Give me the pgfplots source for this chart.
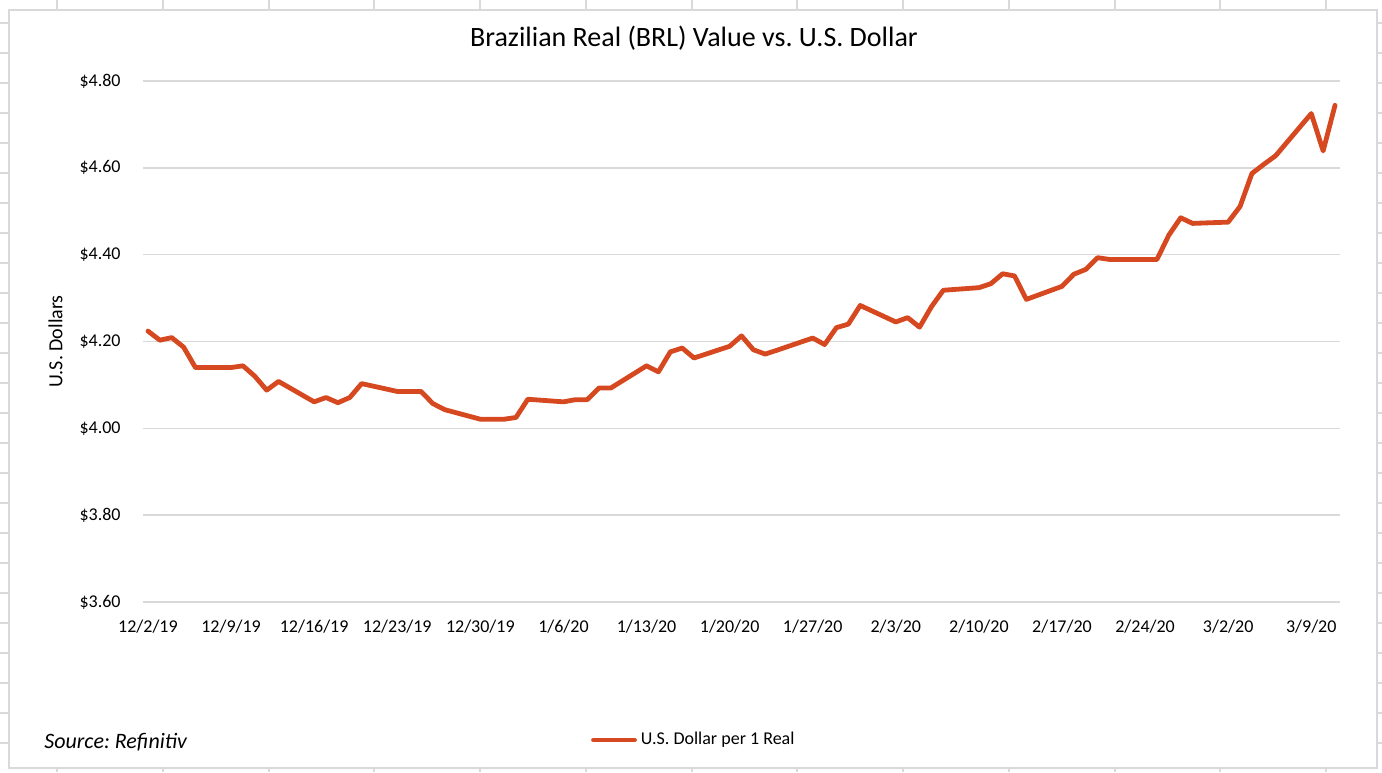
\documentclass[border=0pt]{standalone}
\usepackage{fontspec}
\setmainfont{Carlito}
\usepackage{pgfplots}
\pgfplotsset{compat=1.18}
\usepackage{pgfplotstable}
\definecolor{sheetgray}{RGB}{217,217,217}
\definecolor{brl}{RGB}{214,72,32}
\frenchspacing
\pgfplotstableread{
day value
0 4.224
1 4.203
2 4.209
3 4.187
4 4.140
7 4.140
8 4.144
9 4.120
10 4.088
11 4.108
14 4.061
15 4.071
16 4.059
17 4.071
18 4.103
21 4.085
22 4.085
23 4.085
24 4.057
25 4.043
28 4.021
29 4.021
30 4.021
31 4.025
32 4.067
35 4.061
36 4.066
37 4.066
38 4.093
39 4.093
42 4.144
43 4.130
44 4.176
45 4.185
46 4.162
49 4.189
50 4.213
51 4.181
52 4.171
53 4.180
56 4.208
57 4.193
58 4.232
59 4.240
60 4.283
63 4.245
64 4.255
65 4.233
66 4.280
67 4.318
70 4.324
71 4.333
72 4.356
73 4.351
74 4.297
77 4.327
78 4.355
79 4.366
80 4.393
81 4.389
84 4.389
85 4.389
86 4.445
87 4.485
88 4.472
91 4.475
92 4.511
93 4.587
94 4.608
95 4.628
98 4.725
99 4.639
100 4.744
}\brltable
\begin{document}
\begin{tikzpicture}
\useasboundingbox (0,0) rectangle (691pt,386pt);
\foreach \x in {57,163,269,374,480,586,692,797,903,1009,1115,1220,1326}
  \draw[sheetgray, line width=1pt] ({\x*0.5pt},0) -- ({\x*0.5pt},386pt);
\foreach \y in {23,53,...,743}
  \draw[sheetgray, line width=1pt] (0,{(772-\y)*0.5pt}) -- (691pt,{(772-\y)*0.5pt});
\filldraw[fill=white, draw=sheetgray, line width=1pt] (4.5pt,2pt) rectangle (688.5pt,381pt);
\node[anchor=base, font=\fontsize{14}{16}\selectfont] at (347pt,362.6pt) {Brazilian Real (BRL) Value vs. U.S. Dollar};
\node[anchor=base west, inner sep=0pt, font=\fontsize{11}{13}\selectfont\itshape] at (22pt,12pt) {Source: Refinitiv};
\begin{axis}[
  at={(71.5pt,85pt)}, anchor=south west,
  scale only axis, width=598.5pt, height=260.5pt,
  xmin=-0.42, xmax=100.42, ymin=3.6, ymax=4.8,
  clip=false,
  axis line style={draw=none},
  major tick length=0pt,
  ymajorgrids,
  grid style={sheetgray, line width=0.75pt},
  xtick={0,7,14,21,28,35,42,49,56,63,70,77,84,91,98},
  xticklabels={12/2/19,12/9/19,12/16/19,12/23/19,12/30/19,1/6/20,1/13/20,1/20/20,1/27/20,2/3/20,2/10/20,2/17/20,2/24/20,3/2/20,3/9/20},
  ytick={3.6,3.8,4.0,4.2,4.4,4.6,4.8},
  yticklabels={\$3.60,\$3.80,\$4.00,\$4.20,\$4.40,\$4.60,\$4.80},
  tick label style={font=\fontsize{9}{11}\selectfont},
  yticklabel style={anchor=east, inner sep=0pt, xshift=-11pt},
  xticklabel style={anchor=north, inner sep=0pt, yshift=-9pt},
  ylabel={U.S. Dollars},
  every axis y label/.style={at={(rel axis cs:-0.073,0.5)}, rotate=90, anchor=center, font=\fontsize{10}{12}\selectfont},
  legend style={at={(rel axis cs:0.461,-0.265)}, anchor=center, draw=none, fill=none, font=\fontsize{9}{11}\selectfont},
  legend image code/.code={\draw[#1] (0pt,0pt) -- (20.5pt,0pt);},
]
\addplot[color=brl, line width=2.4pt, line join=round, line cap=round] table[x=day, y=value] {\brltable};
\addlegendentry{U.S. Dollar per 1 Real}
\end{axis}
\end{tikzpicture}
\end{document}
